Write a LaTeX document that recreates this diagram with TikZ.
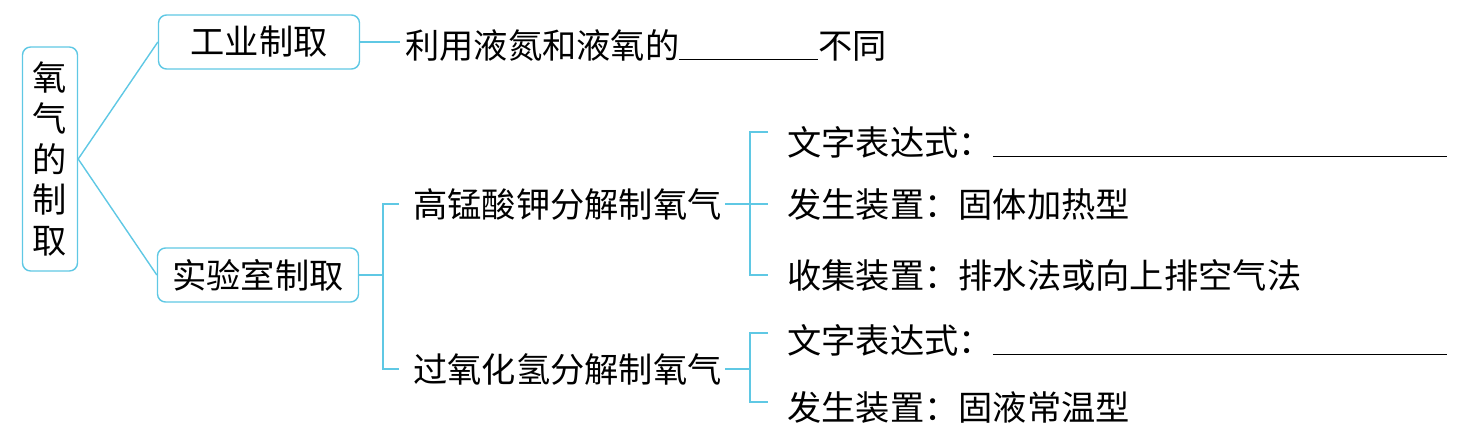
\documentclass[tikz,border=0pt]{standalone}
\usepackage{fontspec}
\setmainfont{Noto Sans CJK SC}
\usepackage{tikz}
\usetikzlibrary{positioning}
\definecolor{linecyan}{RGB}{95,200,228}
\newcommand{\blank}[1]{\rule[-1pt]{#1}{0.6pt}}

\begin{document}
\begin{tikzpicture}[x=0.02cm, y=-0.02cm,
    every node/.style={font=\fontsize{19.5}{23.2}\selectfont},
    box/.style={rectangle, rounded corners=0.16cm, draw=linecyan, line width=0.8pt},
    item/.style={anchor=west, inner sep=0pt},
    link/.style={draw=linecyan, line width=0.8pt}]
    \useasboundingbox (0,0) rectangle (1465,436);

    % Root
    \node[box, minimum width=1.1cm, minimum height=4.48cm, align=center] (root) at (50,159) {氧\\气\\的\\制\\取};

    % Industrial / laboratory
    \node[box, minimum width=4.02cm, minimum height=1.08cm] (ind) at (259,42) {工业制取};
    \node[box, minimum width=4.02cm, minimum height=1.08cm] (lab) at (258,275) {实验室制取};
    \draw[link] (root.east) -- (ind.west);
    \draw[link] (root.east) -- (lab.west);

    % Industrial method
    \node[item] (indtxt) at (405,45) {利用液氮和液氧的\blank{2.78cm}不同};
    \draw[link] (ind.east) -- ([xshift=-0.1cm]indtxt.west |- ind.east);

    % Laboratory methods
    \coordinate (labfork) at (383,275);
    \node[item] (kmno) at (413,204) {高锰酸钾分解制氧气};
    \node[item] (hoo) at (413,369) {过氧化氢分解制氧气};
    \draw[link] (lab.east) -- (labfork);
    \draw[link] ([xshift=-0.28cm]kmno.west) -| (labfork) |- ([xshift=-0.28cm]hoo.west);

    % Potassium permanganate
    \coordinate (kmnofork) at (750,204);
    \node[item] (k1) at (787,142) {文字表达式：\blank{9.08cm}};
    \node[item] (k2) at (787,204) {发生装置：固体加热型};
    \node[item] (k3) at (787,275) {收集装置：排水法或向上排空气法};
    \draw[link] ([xshift=0.06cm]kmno.east) -- (kmnofork);
    \draw[link] ([xshift=-0.38cm, yshift=0.2cm]k1.west) -| (kmnofork) |- ([xshift=-0.38cm]k3.west);
    \draw[link] (kmnofork) -- ([xshift=-0.38cm]k2.west);

    % Hydrogen peroxide
    \coordinate (hoofork) at (750,369);
    \node[item] (h1) at (787,340) {文字表达式：\blank{9.08cm}};
    \node[item] (h2) at (787,407) {发生装置：固液常温型};
    \draw[link] ([xshift=0.06cm]hoo.east) -- (hoofork);
    \draw[link] ([xshift=-0.38cm, yshift=0.14cm]h1.west) -| (hoofork) |- ([xshift=-0.38cm, yshift=0.1cm]h2.west);
\end{tikzpicture}
\end{document}
